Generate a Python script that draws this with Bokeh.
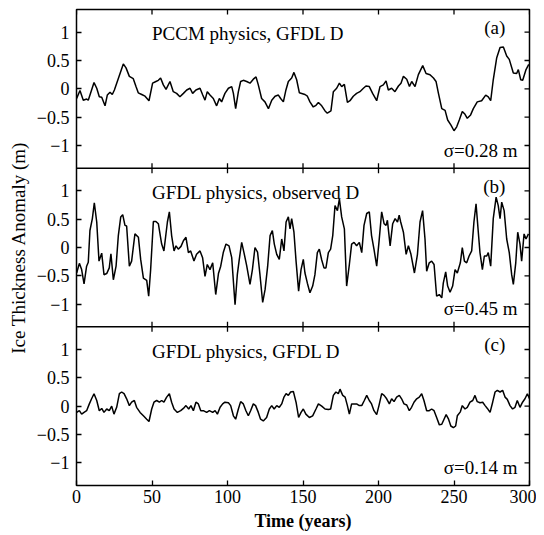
import numpy as np
from bokeh.plotting import figure
from bokeh.models import LinearAxis, FixedTicker, Range1d, Label, Span
from bokeh.embed import file_html
from bokeh.resources import INLINE

# ---------------- data ----------------
years_a = [0.1, 2.3, 4.5, 6.7, 7.8, 11.6, 13.4, 15.1, 16.7, 18.9, 20.4, 22.2, 23.7, 25.1, 31.0, 32.8,
           35.0, 37.6, 39.4, 40.9, 43.2, 45.4, 48.0, 50.4, 52.6, 54.2, 55.7, 57.5, 59.3, 61.9, 64.1,
           66.3, 68.5, 70.8, 73.0, 75.2, 76.9, 79.1, 81.8, 83.6, 85.1, 86.6, 88.4, 90.6, 92.8, 94.6,
           96.1, 98.3, 100.6, 102.8, 103.9, 105.4, 107.2, 108.7, 110.5, 112.7, 114.9, 117.1, 118.9,
           120.4, 122.6, 124.8, 127.1, 129.3, 131.5, 133.7, 135.2, 137.0, 138.7, 140.3, 142.5, 144.0,
           145.8, 147.6, 150.2,
           151.3, 152.9, 154.6, 156.8, 158.6, 160.2, 162.4, 164.6, 166.1, 168.5, 170.1, 172.3, 174.1,
           175.6, 177.4, 179.4, 181.1, 183.3, 185.5, 187.7, 190.0, 191.7, 193.9, 196.1, 198.8, 201.0,
           203.2, 205.0, 206.5, 208.7, 210.9, 213.2, 214.9, 216.5, 218.7, 220.5, 222.0, 224.2, 226.4,
           229.3, 231.5, 234.1, 236.4, 238.1, 239.7, 241.9, 244.1, 245.8, 248.0, 250.0, 251.8, 253.5,
           255.5, 257.3, 258.8, 261.0, 262.8, 265.4, 268.3, 271.0, 272.7, 274.3, 276.0, 278.3, 280.5,
           282.7, 284.9, 286.6, 289.3, 291.5, 292.6, 294.2, 295.5, 297.7, 299.5]
anom_a = [-0.17, -0.03, -0.20, -0.18, -0.20, 0.11, 0.01, -0.14, -0.15, -0.30, -0.11, -0.06, -0.10,
          -0.02, 0.44, 0.37, 0.22, 0.18, 0.04, -0.07, -0.10, -0.13, -0.21, 0.10, 0.13, 0.15, 0.19,
          0.07, -0.01, 0.13, -0.05, -0.08, -0.14, -0.08, -0.02, 0.01, -0.08, -0.02, 0.01, -0.11, -0.20,
          -0.05, -0.11, -0.17, -0.30, -0.17, -0.23, -0.08, 0.01, 0.04, -0.08, -0.35, -0.05, 0.13, 0.15,
          0.13, 0.10, 0.17, 0.21, 0.07, -0.17, -0.23, -0.35, -0.20, -0.13, -0.11, -0.17, -0.23, -0.02,
          0.13, 0.19, 0.29, 0.16, -0.07, -0.09,
          -0.10, -0.13, -0.23, -0.32, -0.29, -0.24, -0.30, -0.39, -0.43, -0.39, -0.05, 0.01, 0.10,
          0.04, 0.08, -0.24, -0.21, -0.13, -0.08, -0.05, 0.01, 0.05, 0.04, -0.08, -0.21, 0.04, 0.07,
          0.14, -0.02, 0.01, -0.05, 0.05, 0.10, 0.22, 0.17, 0.04, 0.13, 0.04, 0.25, 0.41, 0.27, 0.25,
          0.19, 0.13, -0.08, -0.35, -0.38, -0.55, -0.64, -0.74, -0.67, -0.55, -0.40, -0.45, -0.52,
          -0.46, -0.35, -0.23, -0.21, -0.11, -0.14, -0.21, 0.16, 0.55, 0.73, 0.74, 0.58, 0.52, 0.28,
          0.27, 0.34, 0.16, 0.15, 0.34, 0.43]

years_b = [0.1, 1.9, 3.4, 5.0, 6.7, 7.8, 8.9, 10.5, 11.8, 13.4, 14.9, 16.7, 18.2, 20.0, 21.7, 22.8,
           24.4, 26.2, 27.7, 29.3, 30.6, 32.1, 33.2, 35.0, 36.5, 38.7, 41.0, 42.5, 44.3, 46.5, 47.8,
           49.1, 50.9, 52.6, 54.2, 56.4, 57.9, 60.2, 61.5, 63.0, 64.6, 65.9, 67.4, 69.2, 70.8, 72.5,
           74.1, 75.6, 77.8, 79.5, 81.8, 83.5, 85.1, 86.6, 88.4, 90.2, 92.2, 94.0, 95.5, 97.2, 99.0,
           101.0, 102.8, 105.0, 106.5, 107.8, 109.4, 110.9, 112.7, 114.9, 116.5, 118.2, 119.9, 121.5,
           123.3, 124.9, 126.6, 128.2, 129.7, 131.0, 132.6, 134.3, 135.9, 137.4, 138.8, 140.3, 141.4,
           142.5, 144.0, 145.4, 147.1, 148.7, 150.2,
           151.3, 152.9, 154.6, 156.4, 157.9, 159.5, 160.8, 162.4, 163.9, 165.2, 166.8, 168.3, 169.7,
           171.2, 172.8, 174.1, 175.6, 177.4, 178.9, 180.7, 182.2, 183.8, 185.5, 187.3, 188.9, 190.4,
           192.2, 193.9, 195.4, 197.0, 198.8, 200.3, 202.1, 203.7, 205.0, 205.9, 207.7, 209.4, 211.0,
           212.6, 213.7, 214.7, 216.5, 218.3, 219.8, 221.5, 223.8, 225.8, 227.5, 229.2, 230.8, 231.9,
           233.6, 235.2, 236.8, 238.5, 240.3, 241.9, 242.9, 244.5, 245.8, 247.4, 249.1, 250.7, 252.2,
           254.2, 255.5, 256.9, 258.4, 260.0, 261.7, 263.2, 264.6, 266.1, 267.2, 268.8, 270.1, 271.7,
           272.7, 274.3, 276.0, 277.9, 279.3, 280.5, 281.6, 283.2, 284.9, 286.6, 288.2, 289.3, 290.9,
           292.2, 293.7, 294.8, 296.4, 297.7, 299.3]
anom_b = [-0.45, -0.28, -0.39, -0.64, -0.33, -0.26, 0.30, 0.51, 0.79, 0.45, -0.24, -0.10, -0.48,
          -0.46, -0.36, -0.11, -0.57, -0.33, 0.21, 0.54, 0.58, 0.39, 0.38, -0.33, -0.24, 0.24, 0.18,
          -0.21, -0.54, -0.58, -0.86, -0.39, 0.46, 0.46, 0.42, 0.06, -0.06, 0.45, 0.63, 0.21, -0.06,
          0.03, -0.03, 0.02, 0.12, 0.18, -0.09, -0.06, -0.24, -0.12, -0.06, -0.18, -0.51, -0.30, -0.39,
          -0.27, -0.83, -0.46, -0.33, -0.09, 0.06, 0.03, -0.18, -1.01, -0.48, -0.21, 0.09, -0.09,
          -0.32, -0.65, -0.39, 0.00, -0.08, -0.48, -0.97, -0.74, -0.33, 0.21, 0.30, 0.06, -0.12, -0.21,
          0.15, -0.06, 0.45, 0.54, 0.33, 0.51, 0.27, -0.24, -0.77, -0.39, -0.21,
          -0.45, -0.63, -0.80, -0.68, -0.48, -0.09, -0.03, -0.22, -0.36, -0.36, -0.09, -0.03, 0.21,
          0.74, 0.65, 0.86, 0.54, 0.33, -0.68, -0.30, 0.06, 0.09, 0.03, 0.09, -0.09, 0.39, 0.60, 0.63,
          0.21, -0.03, -0.33, 0.09, 0.63, 0.42, 0.39, 0.48, 0.03, 0.42, 0.51, 0.45, 0.57, 0.45, 0.27,
          -0.12, 0.03, -0.12, -0.45, -0.12, 0.45, 0.65, 0.15, -0.42, -0.27, -0.24, -0.30, -0.86,
          -0.83, -0.89, -0.63, -0.43, -0.68, -0.79, -0.68, -0.39, -0.45, -0.27, 0.00, -0.24, -0.27,
          -0.15, -0.06, 0.45, 0.77, 0.27, -0.09, -0.39, -0.15, -0.15, -0.09, -0.33, 0.51, 0.89, 0.74,
          0.51, 0.80, 0.65, 0.15, -0.09, -0.48, -0.65, -0.27, 0.27, 0.06, -0.24, 0.24, 0.15, 0.24]

years_c = [0.1, 1.9, 3.4, 5.0, 6.7, 8.5, 10.0, 11.6, 13.4, 15.1, 16.7, 18.2, 20.0, 21.7, 23.3, 24.8,
           26.6, 28.4, 29.9, 31.5, 33.2, 35.0, 36.5, 38.3, 39.8, 42.1, 44.3, 46.5, 48.0, 49.8, 51.3,
           53.1, 54.9, 56.4, 57.9, 59.7, 61.5, 63.0, 64.6, 66.8, 69.0, 70.8, 72.5, 74.3, 75.8, 77.4,
           79.1, 80.7, 82.3, 84.0, 86.2, 88.0, 90.2, 91.8, 93.3, 95.1, 96.8, 98.3, 100.6, 102.1, 103.9,
           105.4, 107.2, 108.7, 110.5, 112.2, 113.8, 115.3, 117.1, 118.6, 120.4, 121.9, 123.7, 125.9,
           127.7, 129.3, 130.9, 132.6, 134.3, 135.9, 137.4, 138.8, 140.3, 141.8, 143.6, 145.4, 147.1,
           148.7, 150.2,
           151.9, 154.2, 156.4, 158.6, 160.2, 162.4, 164.6, 166.8, 168.3, 170.1, 171.8, 173.4, 174.5,
           176.3, 177.9, 179.4, 180.7, 182.2, 183.8, 185.5, 187.3, 188.9, 190.6, 192.2, 193.9, 195.4,
           197.0, 198.8, 200.3, 202.1, 203.7, 205.4, 207.2, 208.7, 210.3, 212.0, 213.8, 215.3, 216.9,
           218.7, 220.4, 221.9, 223.5, 225.3, 227.0, 228.6, 230.1, 231.9, 233.6, 235.2, 236.8, 238.5,
           240.3, 241.9, 243.4, 244.8, 246.4, 247.9, 249.6, 251.1, 252.2, 254.2, 255.5, 257.3, 258.8,
           260.6, 262.4, 263.9, 265.4, 267.2, 269.0, 270.6, 272.1, 273.9, 275.6, 277.2, 278.7, 280.5,
           282.2, 283.8, 285.3, 287.1, 288.8, 290.4, 291.9, 293.7, 295.4, 297.0, 298.6, 300.0]
anom_c = [-0.11, -0.08, -0.14, -0.11, -0.08, 0.04, 0.13, 0.22, 0.10, -0.08, -0.04, -0.11, -0.05,
          -0.08, 0.00, -0.14, -0.02, 0.22, 0.25, 0.22, 0.13, 0.01, 0.07, 0.10, -0.02, -0.11, -0.17,
          -0.23, -0.27, -0.05, 0.07, 0.10, 0.07, 0.10, 0.07, 0.16, 0.22, 0.07, -0.05, -0.11, -0.08,
          -0.04, 0.01, -0.05, 0.01, -0.08, 0.07, 0.04, -0.08, -0.08, -0.11, -0.08, -0.11, -0.08, -0.14,
          -0.02, 0.04, 0.07, 0.06, 0.01, -0.17, -0.23, -0.05, 0.08, 0.04, -0.08, -0.17, -0.08, 0.04,
          0.01, -0.11, -0.23, -0.26, -0.20, -0.05, 0.01, -0.05, 0.01, -0.02, 0.04, 0.16, 0.22, 0.19,
          0.25, 0.26, 0.07, -0.20, -0.11, -0.05,
          -0.14, -0.20, -0.17, -0.05, 0.04, 0.00, -0.05, -0.06, -0.05, 0.19, 0.25, 0.22, 0.30, 0.19,
          0.16, 0.01, -0.14, 0.04, 0.04, 0.04, 0.01, 0.01, 0.10, 0.19, 0.10, 0.04, -0.08, -0.15, 0.01,
          0.22, 0.19, 0.13, 0.04, 0.13, 0.08, 0.16, 0.19, 0.13, 0.04, 0.02, -0.08, -0.02, 0.07, 0.13,
          0.16, 0.22, 0.10, -0.08, -0.08, -0.05, -0.08, -0.20, -0.33, -0.32, -0.23, -0.15, -0.23,
          -0.35, -0.38, -0.35, -0.17, -0.10, 0.01, -0.05, -0.02, 0.07, 0.10, 0.19, 0.08, 0.06, 0.07,
          0.01, -0.04, -0.11, 0.07, 0.25, 0.28, 0.25, 0.28, 0.16, 0.12, 0.01, -0.05, -0.02, 0.10, -0.02,
          0.07, 0.13, 0.22, 0.13]

panel_titles = ["PCCM physics, GFDL D", "GFDL physics, observed D", "GFDL physics, GFDL D"]
panel_letters = ["(a)", "(b)", "(c)"]
panel_sigmas = ["σ=0.28 m", "σ=0.45 m", "σ=0.14 m"]

y_ticks = [-1, -0.5, 0, 0.5, 1]
y_tick_labels = ["\u22121", "\u22120.5", "0", "0.5", "1"]
x_ticks = [0, 50, 100, 150, 200, 250, 300]
x_title = "Time (years)"
y_title = "Ice Thickness Anomaly (m)"

# ---------------- layout helpers ----------------
HALF = 1.4                      # each panel spans -1.4 .. 1.4
SPAN = 2 * HALF
offsets = [2 * SPAN, SPAN, 0.0]  # panel a on top, c at bottom
FONT = "Liberation Serif"
X0, X1 = 0, 300
Y0, Y1 = -HALF, 2 * SPAN + HALF

p = figure(width=536, height=533,
           x_range=Range1d(X0, X1), y_range=Range1d(Y0, Y1),
           output_backend="svg", toolbar_location=None,
           x_axis_location=None, y_axis_location=None,
           min_border_left=76, min_border_right=7, min_border_top=9, min_border_bottom=10)
p.grid.visible = False
p.outline_line_color = "black"
p.outline_line_width = 1.5
p.background_fill_color = "white"

# extra ranges so each series is drawn with its own native values
for name, off in zip(["a", "b", "c"], offsets):
    p.extra_y_ranges[name] = Range1d(Y0 - off, Y1 - off)

all_ticks = []
overrides = {}
for off in offsets:
    for t, lab in zip(y_ticks, y_tick_labels):
        key = round(t + off, 4)
        all_ticks.append(key)
        overrides[key] = lab

def style_axis(ax):
    ax.axis_line_color = None
    ax.major_tick_in = 5
    ax.major_tick_out = 0
    ax.minor_tick_line_color = None
    ax.major_tick_line_width = 1.3
    ax.major_tick_line_color = "black"
    ax.major_label_text_font = FONT
    ax.major_label_text_color = "black"
    ax.axis_label_text_color = "black"

left = LinearAxis(ticker=FixedTicker(ticks=all_ticks), major_label_overrides=overrides,
                  axis_label=y_title)
style_axis(left)
left.major_label_text_font_size = "18px"
left.major_label_standoff = 7
left.axis_label_text_font = FONT
left.axis_label_text_font_size = "19px"
left.axis_label_text_font_style = "normal"
left.axis_label_standoff = 5
p.add_layout(left, "left")

bottom = LinearAxis(ticker=FixedTicker(ticks=x_ticks), axis_label=x_title)
style_axis(bottom)
bottom.major_label_text_font_size = "18px"
bottom.major_label_standoff = 4
bottom.axis_label_text_font = FONT
bottom.axis_label_text_font_size = "18px"
bottom.axis_label_text_font_style = "bold"
bottom.axis_label_standoff = 5
p.add_layout(bottom, "below")

# inward ticks on the right and top edges (markers are clipped by the frame,
# so only the inner half shows) and ticks crossing the panel separators
p.scatter([X1] * len(all_ticks), all_ticks, marker="dash", size=10,
          line_color="black", line_width=1.3)
inner = x_ticks[1:-1]
p.scatter(x_ticks, [Y1] * len(x_ticks), marker="dash", angle=np.pi / 2, size=10,
          line_color="black", line_width=1.3)
for b in [HALF, HALF + SPAN]:
    p.add_layout(Span(location=b, dimension="width", line_color="black", line_width=1.5))
    p.scatter(inner, [b] * len(inner), marker="dash", angle=np.pi / 2, size=10,
              line_color="black", line_width=1.3)

# series
for name, xs, ys in zip(["a", "b", "c"], [years_a, years_b, years_c], [anom_a, anom_b, anom_c]):
    p.line(xs, ys, y_range_name=name, line_color="black", line_width=1.5)

# annotations
for name, title, letter, sig in zip(["a", "b", "c"], panel_titles, panel_letters, panel_sigmas):
    p.add_layout(Label(x=50, y=0.97, y_range_name=name, text=title, text_font=FONT,
                       text_font_size="19px", text_baseline="middle", text_align="left",
                       text_color="black"))
    p.add_layout(Label(x=284, y=1.08, y_range_name=name, text=letter, text_font=FONT,
                       text_font_size="19px", text_baseline="middle", text_align="right",
                       text_color="black"))
    p.add_layout(Label(x=292, y=-1.08, y_range_name=name, text=sig, text_font=FONT,
                       text_font_size="19px", text_baseline="middle", text_align="right",
                       text_color="black"))

open("out.html", "w").write(file_html(p, INLINE))
